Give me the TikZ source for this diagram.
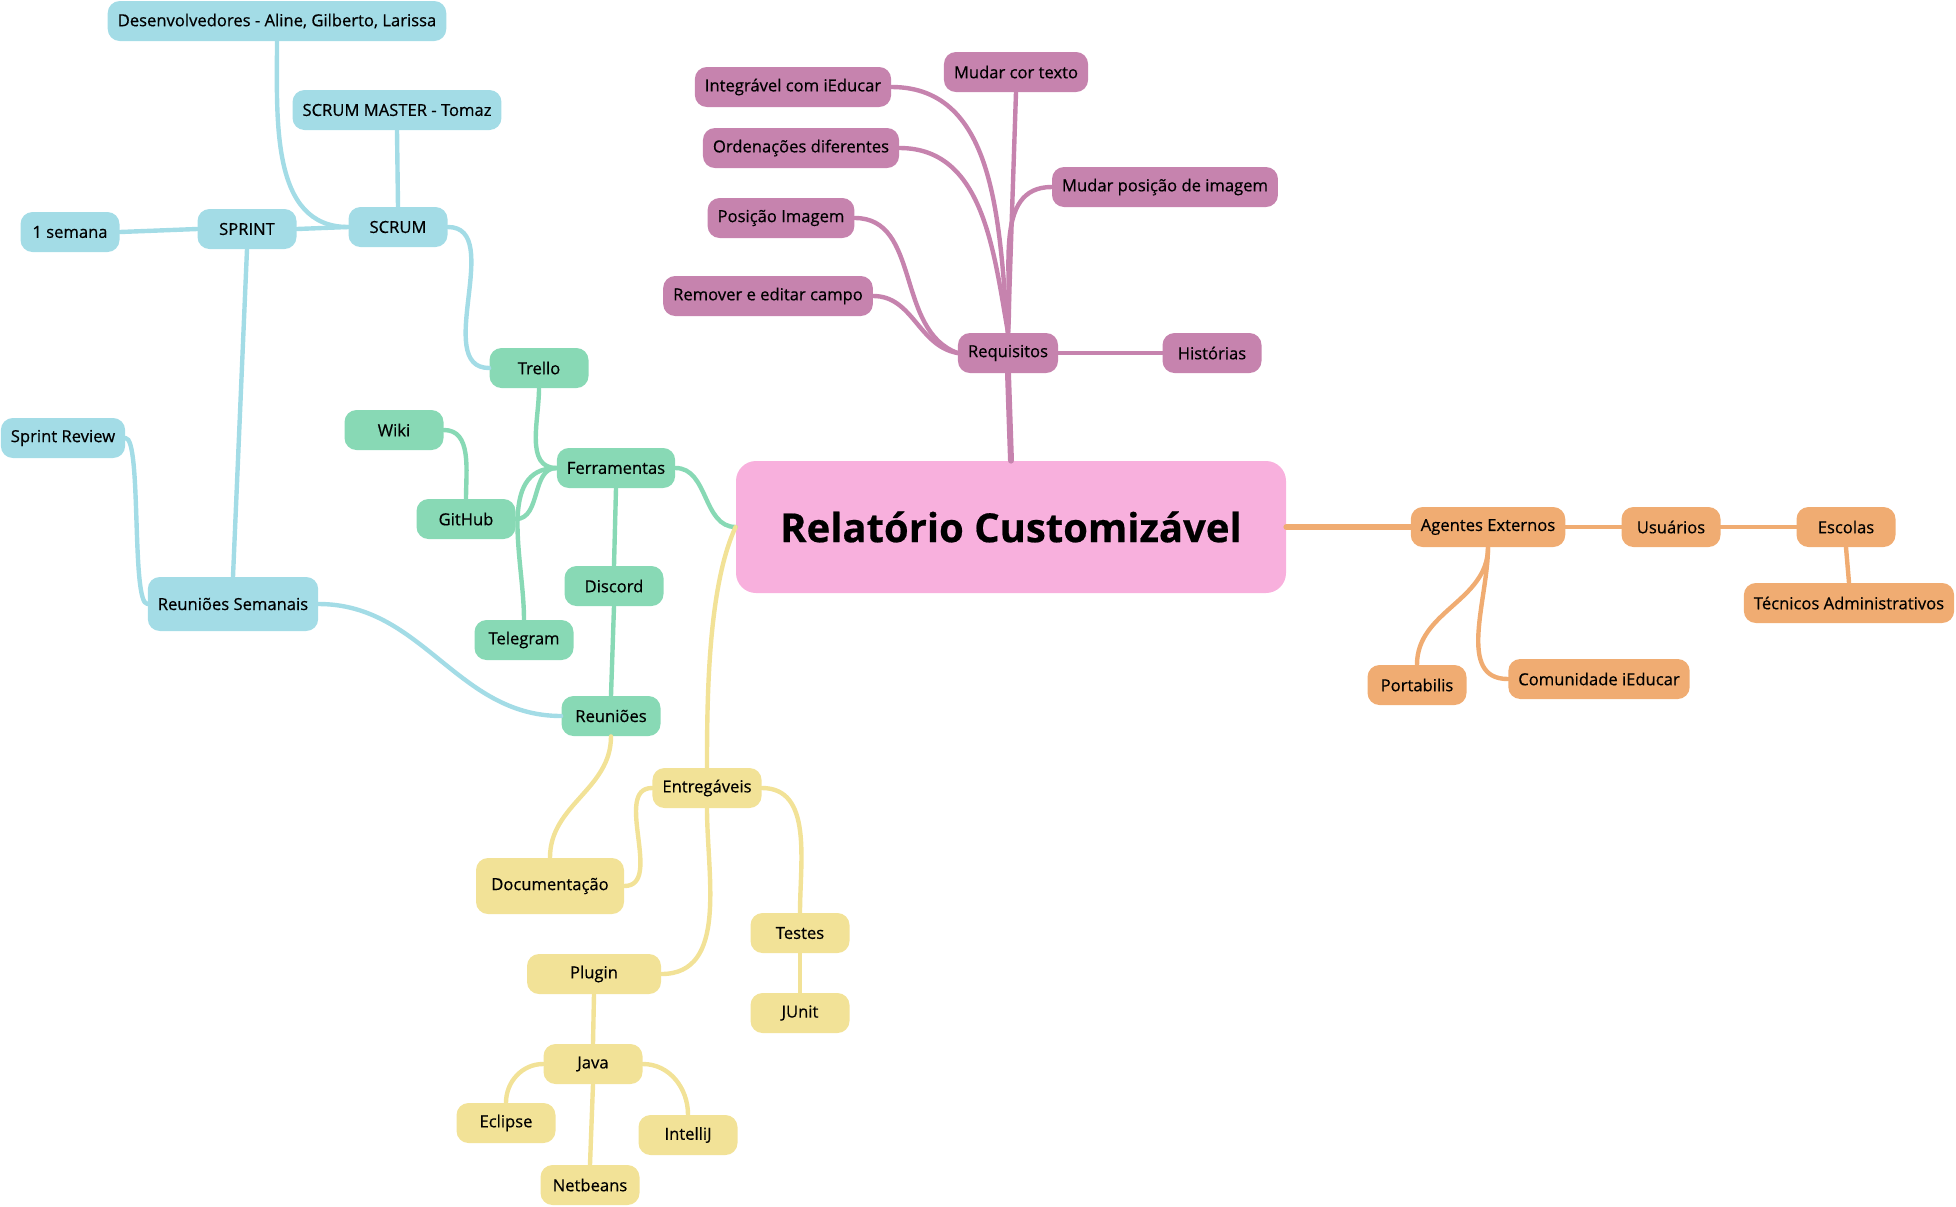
\documentclass[tikz,border=0pt]{standalone}
\usepackage{fontspec}
\setmainfont{Open Sans}[FakeBold=0.5]
\definecolor{cblue}{HTML}{A3DCE6}
\definecolor{cgreen}{HTML}{88D9B5}
\definecolor{cyellow}{HTML}{F2E297}
\definecolor{cpurple}{HTML}{C683AE}
\definecolor{corange}{HTML}{F0AC72}
\definecolor{cpink}{HTML}{F8B0DD}
\tikzset{
  topic/.style={rounded corners=6pt, inner xsep=5pt, minimum height=20pt, minimum width=49.5pt,
    font=\fontsize{8.3}{10}\selectfont, text=black},
  bluetopic/.style={topic, fill=cblue},
  greentopic/.style={topic, fill=cgreen},
  yellowtopic/.style={topic, fill=cyellow},
  purpletopic/.style={topic, fill=cpurple},
  orangetopic/.style={topic, fill=corange},
  branch/.style={line width=2.2pt, line cap=round}
}

\begin{document}
\begin{tikzpicture}[x=0.5pt, y=-0.5pt]
        \useasboundingbox (0,0) rectangle (1956,1206);

        \node [rounded corners=10pt, fill=cpink, minimum width=275pt, minimum height=66pt,
          font=\fontsize{20}{24}\selectfont\bfseries] (root) at (1011,527) {Relatório Customizável};

        \node [bluetopic] (desenv) at (277,21) {Desenvolvedores - Aline, Gilberto, Larissa};
        \node [bluetopic] (master) at (397,110) {SCRUM MASTER - Tomaz};
        \node [bluetopic] (scrum) at (398,227) {SCRUM};
        \node [bluetopic] (sprint) at (247,229) {SPRINT};
        \node [bluetopic] (semana) at (70,232) {1 semana};
        \node [bluetopic] (review) at (63,438) {Sprint Review};
        \node [bluetopic, minimum height=27pt] (semanais) at (233,604) {Reuniões Semanais};

        \node [greentopic] (trello) at (539,368) {Trello};
        \node [greentopic] (wiki) at (394,430) {Wiki};
        \node [greentopic] (ferram) at (616,468) {Ferramentas};
        \node [greentopic] (github) at (466,519) {GitHub};
        \node [greentopic] (discord) at (614,586) {Discord};
        \node [greentopic] (telegram) at (524,640) {Telegram};
        \node [greentopic] (reunioes) at (611,716) {Reuniões};

        \node [yellowtopic] (entreg) at (707,788) {Entregáveis};
        \node [yellowtopic, minimum height=28pt, minimum width=74pt] (doc) at (550,886) {Documentação};
        \node [yellowtopic] (testes) at (800,933) {Testes};
        \node [yellowtopic, minimum width=67pt] (plugin) at (594,974) {Plugin};
        \node [yellowtopic] (junit) at (800,1013) {JUnit};
        \node [yellowtopic] (java) at (593,1064) {Java};
        \node [yellowtopic] (eclipse) at (506,1123) {Eclipse};
        \node [yellowtopic] (intellij) at (688,1135) {IntelliJ};
        \node [yellowtopic] (netbeans) at (590,1185) {Netbeans};

        \node [purpletopic] (integr) at (793,87) {Integrável com iEducar};
        \node [purpletopic] (cor) at (1016,72) {Mudar cor texto};
        \node [purpletopic] (orden) at (801,148) {Ordenações diferentes};
        \node [purpletopic] (posimg) at (1165,187) {Mudar posição de imagem};
        \node [purpletopic] (posicao) at (781,218) {Posição Imagem};
        \node [purpletopic] (remover) at (768,296) {Remover e editar campo};
        \node [purpletopic] (requis) at (1008,353) {Requisitos};
        \node [purpletopic] (histor) at (1212,353) {Histórias};

        \node [orangetopic] (agentes) at (1488,527) {Agentes Externos};
        \node [orangetopic] (usuarios) at (1671,527) {Usuários};
        \node [orangetopic] (escolas) at (1846,527) {Escolas};
        \node [orangetopic] (tecnicos) at (1849,603) {Técnicos Administrativos};
        \node [orangetopic] (portab) at (1417,685) {Portabilis};
        \node [orangetopic] (comun) at (1599,679) {Comunidade iEducar};

        \draw [branch, cblue] (scrum.north) -- (master.south);
        \draw [branch, cblue] (desenv.south) to[out=-90, in=180] (scrum.west);
        \draw [branch, cblue] (sprint.east) -- (scrum.west);
        \draw [branch, cblue] (semana.east) -- (sprint.west);
        \draw [branch, cblue] (sprint.south) -- (semanais.north);
        \draw [branch, cblue] (review.east) to[out=0, in=180, looseness=0.25] (semanais.west);
        \draw [branch, cblue] (semanais.east) to[out=0, in=180] (reunioes.west);
        \draw [branch, cblue] (scrum.east) to[out=0, in=180] (trello.west);

        \draw [branch, cgreen] (ferram.west) to[out=180, in=-90] (trello.south);
        \draw [branch, cgreen] (ferram.west) to[out=180, in=0] (github.east);
        \draw [branch, cgreen] (ferram.west) to[out=180, in=90] (telegram.north);
        \draw [branch, cgreen] (ferram.south) -- (discord.north);
        \draw [branch, cgreen] (discord.south) -- (reunioes.north);
        \draw [branch, cgreen] (wiki.east) to[out=0, in=90] (github.north);
        \draw [branch, cgreen] (ferram.east) to[out=0, in=180] (root.west);

        \draw [branch, cyellow] (root.west) to[out=245, in=90, looseness=0.7] (entreg.north);
        \draw [branch, cyellow] (reunioes.south) to[out=-90, in=90] (doc.north);
        \draw [branch, cyellow] (entreg.west) to[out=180, in=0] (doc.east);
        \draw [branch, cyellow] (entreg.south) to[out=-90, in=0] (plugin.east);
        \draw [branch, cyellow] (entreg.east) to[out=0, in=90] (testes.north);
        \draw [branch, cyellow] (testes.south) -- (junit.north);
        \draw [branch, cyellow] (plugin.south) -- (java.north);
        \draw [branch, cyellow] (java.west) to[out=180, in=90] (eclipse.north);
        \draw [branch, cyellow] (java.east) to[out=0, in=90] (intellij.north);
        \draw [branch, cyellow] (java.south) -- (netbeans.north);

        \draw [branch, cpurple, line width=3pt] (root.north) -- (requis.south);
        \draw [branch, cpurple] (requis.north) -- (cor.south);
        \draw [branch, cpurple] (integr.east) to[out=0, in=95] (requis.north);
        \draw [branch, cpurple] (orden.east) to[out=0, in=100] (requis.north);
        \draw [branch, cpurple] (posicao.east) to[out=0, in=160] (requis.west);
        \draw [branch, cpurple] (remover.east) to[out=0, in=170] (requis.west);
        \draw [branch, cpurple] (posimg.west) to[out=180, in=85] (requis.north);
        \draw [branch, cpurple] (requis.east) -- (histor.west);

        \draw [branch, corange, line width=3pt] (root.east) -- (agentes.west);
        \draw [branch, corange] (agentes.east) -- (usuarios.west);
        \draw [branch, corange] (usuarios.east) -- (escolas.west);
        \draw [branch, corange] (escolas.south) -- (tecnicos.north);
        \draw [branch, corange] (agentes.south) to[out=-90, in=90] (portab.north);
        \draw [branch, corange] (agentes.south) to[out=-90, in=180] (comun.west);

    \end{tikzpicture}
\end{document}
